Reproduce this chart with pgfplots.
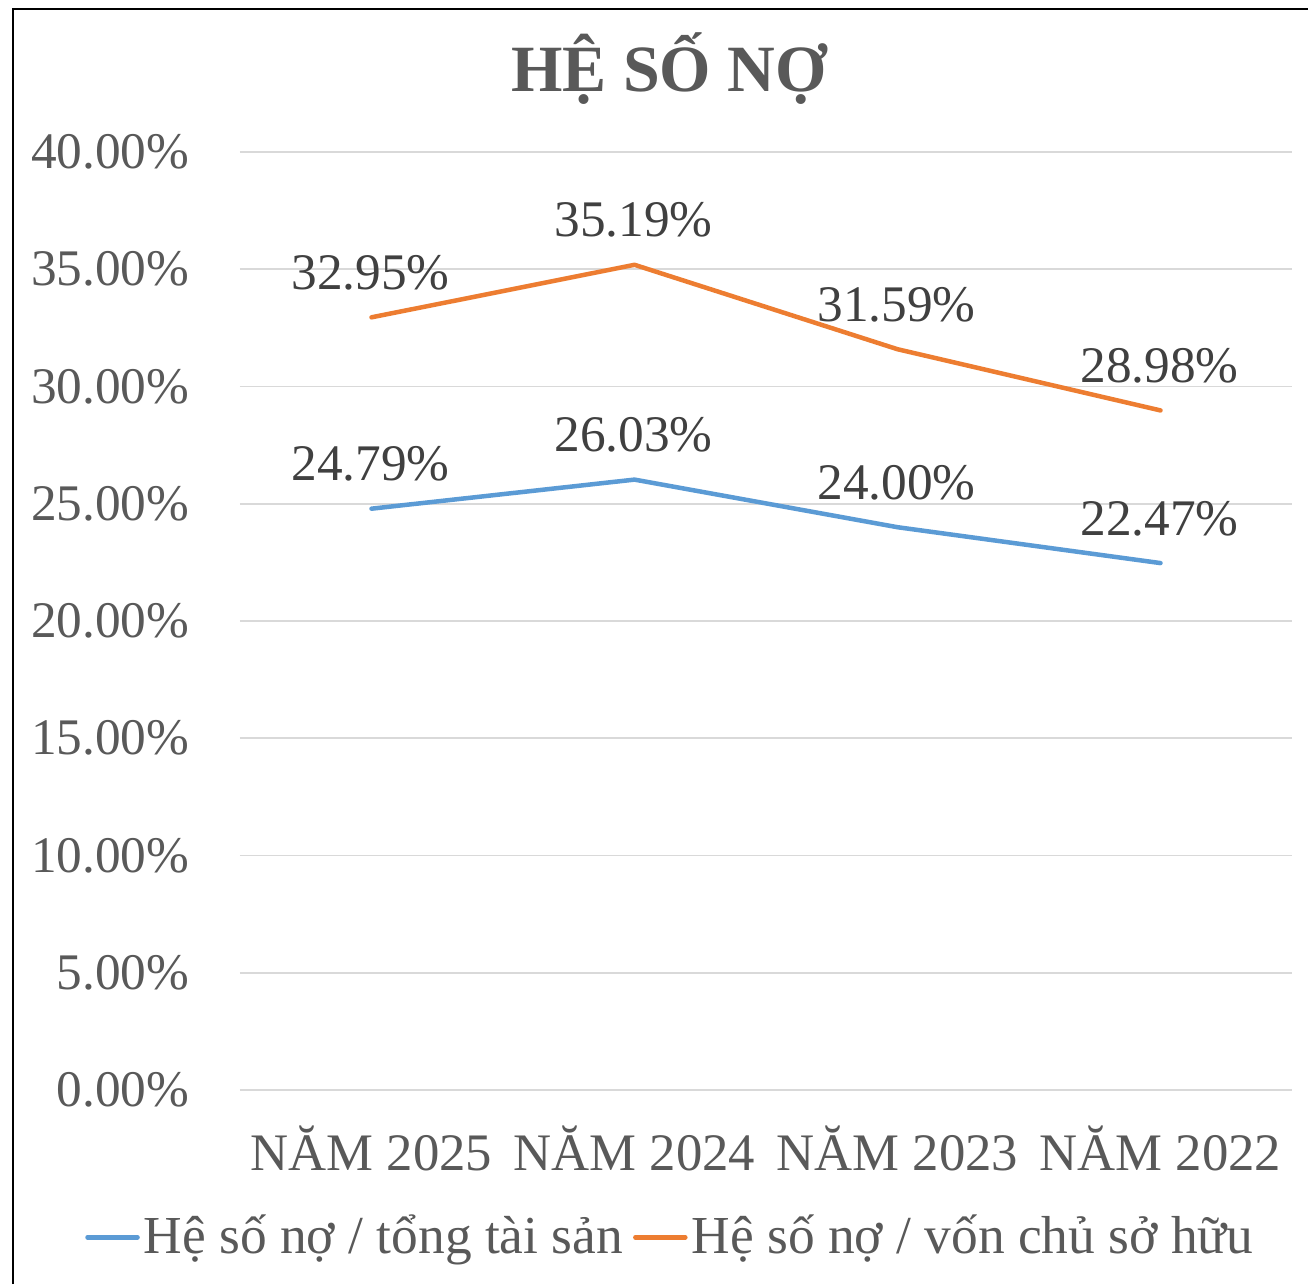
\documentclass[border=0pt]{standalone}
\usepackage{pgfplots}
\pgfplotsset{compat=1.18}
\usepackage{fontspec}
\setmainfont{Liberation Serif}
\definecolor{cblue}{HTML}{5B9BD5}
\definecolor{corange}{HTML}{ED7D31}
\definecolor{cgray}{HTML}{595959}
\definecolor{cdark}{HTML}{404040}
\definecolor{cgrid}{HTML}{D9D9D9}
\begin{document}
\begin{tikzpicture}[x=1cm,y=1cm]
\useasboundingbox (0,0) rectangle (13.08,12.84);
\fill[white] (0,0) rectangle (13.08,12.84);
\draw[line width=0.028cm, black] (0.13,0) -- (0.13,12.75) -- (13.08,12.75);
\node[anchor=base, inner sep=0, text=cgray, font=\fontsize{18.8}{22}\selectfont\bfseries] at (6.69,11.92) {HỆ SỐ NỢ};
\begin{axis}[
  at={(2.40cm,1.94cm)}, anchor=south west,
  scale only axis, width=10.52cm, height=9.38cm,
  xmin=-0.5, xmax=3.5, ymin=0, ymax=40,
  xtick={0,1,2,3},
  xticklabels={NĂM 2025, NĂM 2024, NĂM 2023, NĂM 2022},
  ytick={0,5,...,40},
  yticklabel={\pgfmathprintnumber[fixed,fixed zerofill,precision=2]{\tick}\%},
  /pgf/number format/assume math mode=true,
  axis line style={draw=none},
  major tick length=0pt,
  ymajorgrids, grid style={cgrid, line width=0.5pt},
  yticklabel style={anchor=east, inner sep=0pt, xshift=-0.50cm, text=cgray, font=\fontsize{14.6}{17}\selectfont},
  xticklabel style={anchor=base, inner sep=0pt, yshift=-0.80cm, text=cgray, font=\fontsize{15}{18}\selectfont},
  nodes near coords={\pgfmathprintnumber[fixed,fixed zerofill,precision=2]{\pgfplotspointmeta}\%},
  nodes near coords style={anchor=base, inner sep=0pt, yshift=0.28cm, xshift=-0.01cm, text=cdark, font=\fontsize{14.6}{17}\selectfont},
  legend columns=2,
  legend style={at={(0.41,-0.157)}, anchor=center, draw=none, fill=none, inner sep=0pt,
    font=\fontsize{15.2}{18}\selectfont, text=cgray,
    nodes={inner sep=0.04cm},
    /tikz/every even column/.append style={column sep=0.06cm}},
  legend image code/.code={\draw[#1, line cap=round] (0cm,0cm) -- (0.5cm,0cm);},
  clip=false,
]
\addplot[cblue, line width=0.045cm, line cap=round, line join=round] coordinates {(0,24.79) (1,26.03) (2,24.00) (3,22.47)};
\addlegendentry{Hệ số nợ / tổng tài sản}
\addplot[corange, line width=0.045cm, line cap=round, line join=round] coordinates {(0,32.95) (1,35.19) (2,31.59) (3,28.98)};
\addlegendentry{Hệ số nợ / vốn chủ sở hữu}
\end{axis}
\end{tikzpicture}
\end{document}
